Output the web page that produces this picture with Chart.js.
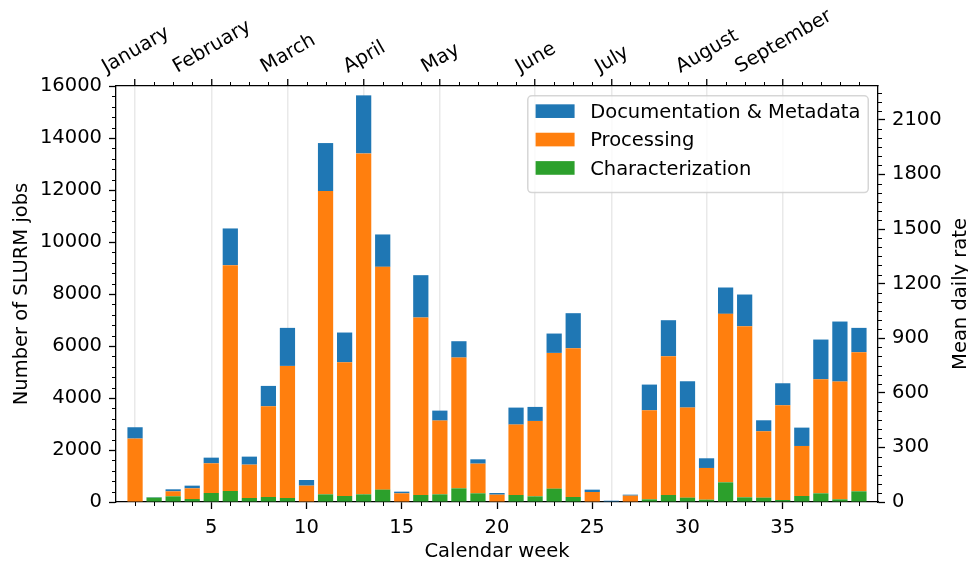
<!DOCTYPE html>
<html>
<head>
<meta charset="utf-8">
<script src="https://cdn.jsdelivr.net/npm/chart.js@4.4.0/dist/chart.umd.min.js"></script>
<style>
  html, body { margin: 0; padding: 0; background: #ffffff; }
  #wrap { width: 968px; height: 561px; position: relative; }
  canvas { display: block; }
</style>
</head>
<body>
<div id="wrap"><canvas id="c" width="968" height="561"></canvas></div>
<script>
// ---- data ----
const weeks = [1,2,3,4,5,6,7,8,9,10,11,12,13,14,15,16,17,18,19,20,21,22,23,24,25,26,27,28,29,30,31,32,33,34,35,36,37,38,39];
const characterization = [0,170,218,115,346,423,154,192,154,0,295,231,295,475,0,269,295,526,334,0,269,218,513,192,0,0,0,103,269,167,90,757,180,167,77,231,334,103,411];
const processing = [2440,0,193,411,1142,8686,1283,3490,5081,629,11663,5145,13112,8570,334,6826,2836,5029,1141,282,2708,2900,5222,5723,385,0,244,3425,5338,3464,1219,6479,6581,2553,3644,1924,4387,4529,5350];
const documentation = [435,15,77,103,218,1412,308,783,1462,218,1847,1142,2233,1245,64,1629,384,629,167,64,654,539,744,1347,90,50,38,988,1385,1013,372,1014,1219,423,846,706,1527,2309,936];
const seriesLabels = ['Characterization', 'Processing', 'Documentation & Metadata'];
const monthLabels = ['January','February','March','April','May','June','July','August','September'];
const monthWeeks = [1,5,9,13,17,22,26,31,35];
const weekTicks = [5,10,15,20,25,30,35];
const jobTicks = [0,2000,4000,6000,8000,10000,12000,14000,16000];
const rateTicks = [0,300,600,900,1200,1500,1800,2100];

const COLORS = ['#2ca02c', '#ff7f0e', '#1f77b4'];
const FONT = 'DejaVu Sans';
const FS = 19.5;

const toXY = arr => weeks.map((w, i) => ({ x: w, y: arr[i] }));

// ---- plugins ----
const minorTicks = {
  id: 'minorTicks',
  afterDraw(chart) {
    const { ctx, chartArea: a, scales } = chart;
    const r = v => Math.round(v) + 0.5;
    ctx.save();
    ctx.strokeStyle = '#000';
    ctx.lineWidth = 1;
    ctx.beginPath();
    for (const w of weeks) {
      if (!weekTicks.includes(w)) {
        const px = r(scales.x.getPixelForValue(w));
        ctx.moveTo(px, a.bottom); ctx.lineTo(px, a.bottom + 4);
      }
      if (!monthWeeks.includes(w)) {
        const px = r(scales.x2.getPixelForValue(w));
        ctx.moveTo(px, a.top); ctx.lineTo(px, a.top - 4);
      }
    }
    for (let v = 400; v < 16000; v += 400) {
      if (v % 2000 === 0) continue;
      const py = r(scales.y.getPixelForValue(v));
      ctx.moveTo(a.left, py); ctx.lineTo(a.left - 4, py);
    }
    for (let v = 50; v < 16000 / 7; v += 50) {
      if (v % 300 === 0) continue;
      const py = r(scales.y2.getPixelForValue(v));
      ctx.moveTo(a.right, py); ctx.lineTo(a.right + 4, py);
    }
    ctx.stroke();
    ctx.restore();
  }
};

const extraText = {
  id: 'extraText',
  afterDraw(chart) {
    const { ctx, chartArea: a, scales } = chart;
    ctx.save();
    ctx.font = FS + 'px "' + FONT + '"';
    ctx.fillStyle = '#000';
    ctx.textAlign = 'center';
    ctx.textBaseline = 'alphabetic';
    const th = FS * 1.164;
    const ang = 30 * Math.PI / 180;
    const bottom = a.top - 9;
    monthLabels.forEach((m, i) => {
      const w = ctx.measureText(m).width;
      const H = w * Math.sin(ang) + th * Math.cos(ang);
      const cx = scales.x2.getPixelForValue(monthWeeks[i]);
      const cy = bottom - H / 2;
      ctx.save();
      ctx.translate(cx, cy);
      ctx.rotate(-ang);
      ctx.fillText(m, 0, 0.346 * FS);
      ctx.restore();
    });
    // right axis title (reads bottom-to-top)
    ctx.save();
    ctx.translate(959, (a.top + a.bottom) / 2);
    ctx.rotate(-Math.PI / 2);
    ctx.fillText('Mean daily rate', 0, 0.346 * FS);
    ctx.restore();
    ctx.restore();
  }
};

const boxLegend = {
  id: 'boxLegend',
  afterDraw(chart) {
    const { ctx, chartArea: a } = chart;
    const ds = chart.data.datasets.slice().reverse();
    ctx.save();
    ctx.font = FS + 'px "' + FONT + '"';
    const maxW = Math.max(...ds.map(d => ctx.measureText(d.label).width));
    const pad = 0.4 * FS, hl = 2 * FS, hh = 0.7 * FS, gap = 0.8 * FS, rowH = 28.4;
    const right = a.right - 0.5 * FS;
    const top = a.top + 0.5 * FS;
    const width = pad + hl + gap + maxW + pad;
    const height = pad * 2 + rowH * ds.length - 4;
    const left = right - width;
    const rad = 4;
    ctx.beginPath();
    ctx.moveTo(left + rad, top);
    ctx.arcTo(right, top, right, top + height, rad);
    ctx.arcTo(right, top + height, left, top + height, rad);
    ctx.arcTo(left, top + height, left, top, rad);
    ctx.arcTo(left, top, right, top, rad);
    ctx.closePath();
    ctx.fillStyle = 'rgba(255,255,255,0.8)';
    ctx.fill();
    ctx.strokeStyle = 'rgba(204,204,204,0.8)';
    ctx.lineWidth = 1.5;
    ctx.stroke();
    ctx.textAlign = 'left';
    ctx.textBaseline = 'alphabetic';
    ds.forEach((d, i) => {
      const cy = top + pad + 7.6 + i * rowH;
      ctx.fillStyle = d.backgroundColor;
      ctx.fillRect(left + pad, cy - hh / 2, hl, hh);
      ctx.fillStyle = '#000';
      ctx.fillText(d.label, left + pad + hl + gap, cy + 0.346 * FS);
    });
    ctx.restore();
  }
};

// ---- chart ----
const tickFont = { family: FONT, size: FS };
const plainTicks = { font: tickFont, color: '#000', padding: 7, autoSkip: false, maxRotation: 0, minRotation: 0, callback: v => String(v) };
const tickGrid = { drawOnChartArea: false, drawTicks: true, tickLength: 7, tickColor: '#000', tickWidth: 1.3, offset: false };
const blackBorder = { display: true, color: '#000', width: 1.3 };

new Chart(document.getElementById('c'), {
  type: 'bar',
  data: {
    datasets: [
      { label: seriesLabels[0], data: toXY(characterization), backgroundColor: COLORS[0] },
      { label: seriesLabels[1], data: toXY(processing), backgroundColor: COLORS[1] },
      { label: seriesLabels[2], data: toXY(documentation), backgroundColor: COLORS[2] }
    ]
  },
  options: {
    responsive: false,
    animation: false,
    devicePixelRatio: 1,
    layout: { padding: 0 },
    datasets: { bar: { barPercentage: 0.8, categoryPercentage: 1.0, borderWidth: 0 } },
    plugins: { legend: { display: false }, tooltip: { enabled: false } },
    scales: {
      x: {
        type: 'linear', position: 'bottom', min: 0, max: 40, stacked: true, offset: false,
        afterBuildTicks: s => { s.ticks = weekTicks.map(v => ({ value: v })); },
        ticks: plainTicks, grid: tickGrid, border: blackBorder,
        title: { display: true, text: 'Calendar week', font: tickFont, color: '#000', padding: { top: 0, bottom: -3 } },
        afterFit: s => { s.height = 59; }
      },
      x2: {
        type: 'linear', position: 'top', min: 0, max: 40, offset: false,
        afterBuildTicks: s => { s.ticks = monthWeeks.map(v => ({ value: v })); },
        ticks: { display: false },
        grid: { drawOnChartArea: true, offset: false, color: '#e9e9e9', lineWidth: 1.5, drawTicks: true, tickLength: 7, tickColor: '#000', tickWidth: 1.3 },
        border: blackBorder,
        afterFit: s => { s.height = 86; }
      },
      y: {
        type: 'linear', position: 'left', min: 0, max: 16000, stacked: true,
        afterBuildTicks: s => { s.ticks = jobTicks.map(v => ({ value: v })); },
        ticks: plainTicks, grid: tickGrid, border: blackBorder,
        title: { display: true, text: 'Number of SLURM jobs', font: tickFont, color: '#000', padding: { top: 10, bottom: 0 } },
        afterFit: s => { s.width = 116; }
      },
      y2: {
        type: 'linear', position: 'right', min: 0, max: 16000 / 7,
        afterBuildTicks: s => { s.ticks = rateTicks.map(v => ({ value: v })); },
        ticks: plainTicks, grid: tickGrid, border: blackBorder,
        afterFit: s => { s.width = 90; }
      }
    }
  },
  plugins: [minorTicks, extraText, boxLegend]
});
</script>
</body>
</html>
